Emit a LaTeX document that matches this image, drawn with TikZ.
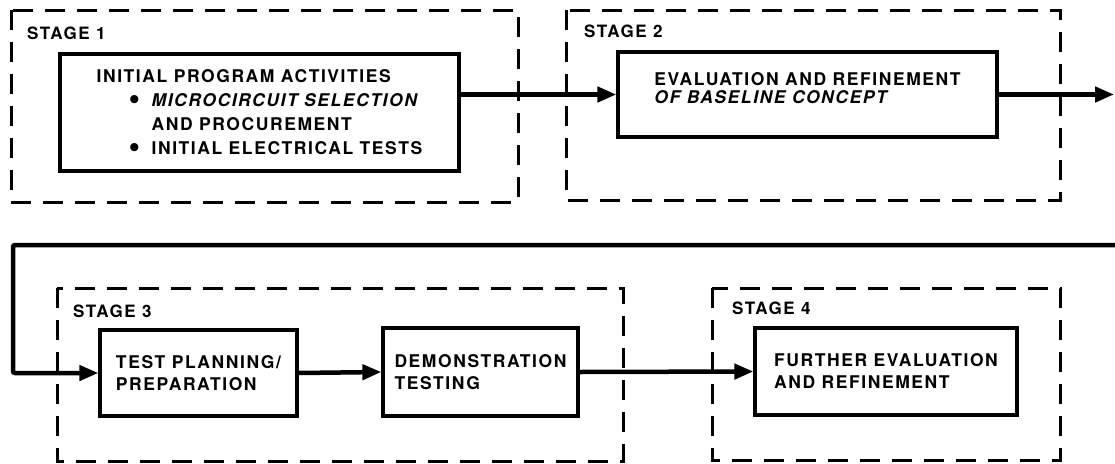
\documentclass[tikz,border=0pt]{standalone}
\usepackage{fontspec}
\setmainfont{TeX Gyre Heros}[LetterSpace=9]
\usetikzlibrary{arrows.meta, positioning}

\newcommand{\blt}{\makebox[23pt][l]{\smash{\raisebox{-2.5pt}{\fontsize{33}{0}\selectfont\textbullet}}}}

\begin{document}
\begin{tikzpicture}[x=1pt, y=-1pt,
    stagebox/.style={line width=3pt, dash pattern=on 20pt off 12pt},
    block/.style={draw, line width=3.2pt, inner sep=0pt, align=left},
    boxtext/.style={inner sep=0pt, align=left, font=\bfseries\fontsize{17.5}{22}\selectfont},
    stagelabel/.style={anchor=west, inner sep=0pt, font=\bfseries\fontsize{17}{17}\selectfont},
    flow/.style={line width=4.5pt, -{Triangle[length=19pt, width=15pt]}}]
  \useasboundingbox (0,0) rectangle (1115,463);

  % Stage 1
  \draw[stagebox] (11,10) rectangle (518,202);
  \node[stagelabel] (s1) at (27,33) {STAGE 1};
  \node[block, minimum width=399pt, minimum height=117pt,
        font=\bfseries\fontsize{17.5}{24}\selectfont] (box1) at (259.5,112.5)
    {INITIAL PROGRAM ACTIVITIES\\
     \hspace*{32pt}\blt\textit{MICROCIRCUIT SELECTION}\\
     \hspace*{55pt}AND PROCUREMENT\\
     \hspace*{32pt}\blt INITIAL ELECTRICAL TESTS};

  % Stage 2
  \draw[stagebox] (566,10) rectangle (1060,200);
  \node[stagelabel] (s2) at (584,31) {STAGE 2};
  \node[block, minimum width=379pt, minimum height=85pt] (box2) at (807.5,94.5) {};
  \node[boxtext, font=\bfseries\fontsize{17.5}{18}\selectfont] (t2)
    at ([yshift=6pt]box2.center)
    {EVALUATION AND REFINEMENT\\ \textit{OF BASELINE CONCEPT}};
  \coordinate (exit) at (1114,94.5);
  \coordinate (back) at (1115,245);

  % Stage 3
  \draw[stagebox] (57,288) rectangle (623,461);
  \node[stagelabel] (s3) at (73,311) {STAGE 3};
  \node[block, minimum width=197pt, minimum height=86pt,
        font=\bfseries\fontsize{17.5}{22}\selectfont] (box3a) at (198.5,373)
    {TEST PLANNING/\\ PREPARATION};
  \node[block, minimum width=195pt, minimum height=88pt,
        font=\bfseries\fontsize{17.5}{22}\selectfont] (box3b) at (480.5,372)
    {DEMONSTRATION\\ TESTING};

  % Stage 4
  \draw[stagebox] (712,288) rectangle (1060,460);
  \node[stagelabel] (s4) at (732,308) {STAGE 4};
  \node[block, minimum width=262pt, minimum height=87pt,
        font=\bfseries\fontsize{17.5}{22}\selectfont] (box4) at (886,371.5)
    {FURTHER EVALUATION\\ AND REFINEMENT};

  % Flow
  \draw[flow] (box1.east |- box2.west) -- (box2.west);
  \draw[flow] (box2.east) -- (exit);
  \draw[flow, rounded corners=2pt] (back) -- (13,245) |- (box3a.west);
  \draw[flow] (box3a.east) -- (box3b.west);
  \draw[flow] (box3b.east) -- (box4.west);
\end{tikzpicture}
\end{document}
